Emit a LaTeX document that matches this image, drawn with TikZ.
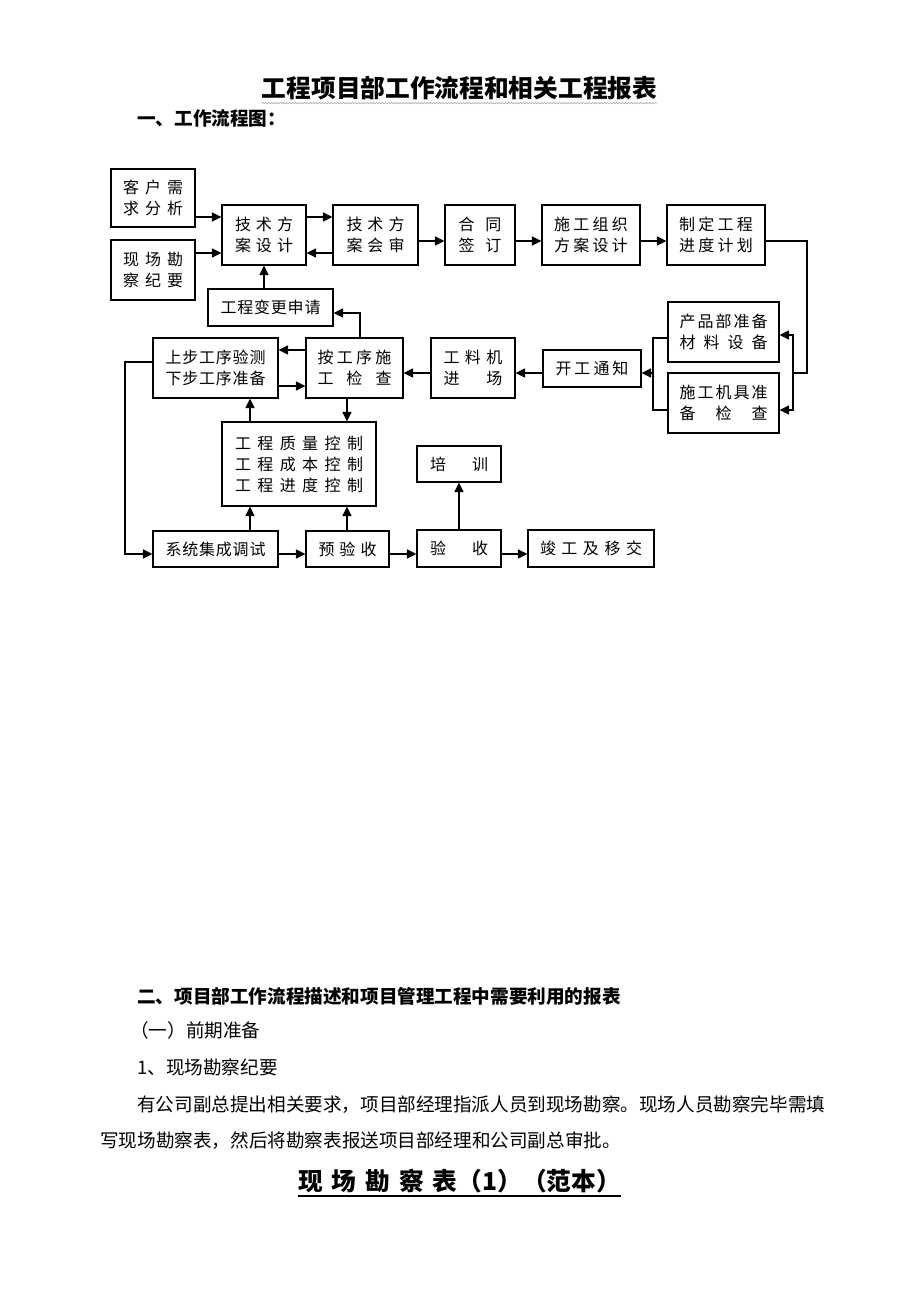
\documentclass[tikz,border=0pt]{standalone}
\usepackage{fontspec}
\setmainfont{Noto Sans CJK SC}
\usetikzlibrary{arrows.meta,decorations.pathmorphing}
\newcommand\myg[1]{\hspace*{#1pt}}
\begin{document}
\begin{tikzpicture}[x=1pt,y=-1pt,
 box/.style={draw=black,line width=1.1pt,rectangle,inner sep=0pt,align=center,font=\fontsize{16}{21}\selectfont},
 arr/.style={line width=1.5pt,-{Triangle[length=9.5pt,width=9pt]}},
 ln/.style={line width=1.5pt},
 txt/.style={inner sep=0pt,anchor=west,font=\fontsize{18.6}{20}\selectfont},
 btxt/.style={inner sep=0pt,anchor=west,font=\bfseries\fontsize{18.6}{20}\selectfont},
]
\fill[white] (0,0) rectangle (920,1302);
\useasboundingbox (0,0) rectangle (920,1302);

% headings
\node[inner sep=0pt,font=\bfseries\fontsize{24.7}{26}\selectfont] (title) at (459.5,88) {工程项目部工作流程和相关工程报表};
\draw[gray!70,line width=0.6pt,decorate,decoration={snake,amplitude=0.8pt,segment length=3pt}] ([yshift=-3pt]title.south west) -- ([yshift=-3pt]title.south east);
\node[btxt] (h1) at (137,118) {一、工作流程图：};

% boxes
\node[box,minimum width=84pt,minimum height=58pt] (kh) at (153,198) {客\myg6户\myg6需\\求\myg6分\myg6析};
\node[box,minimum width=84pt,minimum height=60pt] (xc) at (153,270) {现\myg6场\myg6勘\\察\myg6纪\myg6要};
\node[box,minimum width=84pt,minimum height=60pt] (jsj) at (264,235) {技\myg5术\myg5方\\案\myg5设\myg5计};
\node[box,minimum width=85pt,minimum height=60pt] (jsh) at (375.5,235) {技\myg5术\myg5方\\案\myg5会\myg5审};
\node[box,minimum width=70pt,minimum height=60pt] (ht) at (480,235) {合\myg{11}同\\签\myg{11}订};
\node[box,minimum width=98pt,minimum height=60pt] (sg) at (591,235) {施\myg{3.3}工\myg{3.3}组\myg{3.3}织\\方\myg{3.3}案\myg{3.3}设\myg{3.3}计};
\node[box,minimum width=98pt,minimum height=60pt] (zd) at (716,235) {制\myg{3.3}定\myg{3.3}工\myg{3.3}程\\进\myg{3.3}度\myg{3.3}计\myg{3.3}划};
\node[box,minimum width=125pt,minimum height=37pt] (bg) at (270.5,307.5) {工\myg{0.8}程\myg{0.8}变\myg{0.8}更\myg{0.8}申\myg{0.8}请};
\node[box,minimum width=111pt,minimum height=60pt] (cp) at (723.5,332) {产\myg2品\myg2部\myg2准\myg2备\\材\myg8料\myg8设\myg8备};
\node[box,minimum width=111pt,minimum height=60pt] (jj) at (723.5,403) {施\myg2工\myg2机\myg2具\myg2准\\备\myg{20}检\myg{20}查};
\node[box,minimum width=98pt,minimum height=37pt] (kg) at (592,368.5) {开\myg3工\myg3通\myg3知};
\node[box,minimum width=84pt,minimum height=60pt] (gl) at (473,368) {工\myg{5.5}料\myg{5.5}机\\进\myg{27}场};
\node[box,minimum width=97pt,minimum height=60pt] (aj) at (354.5,368) {按\myg{3.3}工\myg{3.3}序\myg{3.3}施\\工\myg{13}检\myg{13}查};
\node[box,minimum width=125pt,minimum height=60pt] (sb) at (215.5,368) {上\myg{0.8}步\myg{0.8}工\myg{0.8}序\myg{0.8}验\myg{0.8}测\\下\myg{0.8}步\myg{0.8}工\myg{0.8}序\myg{0.8}准\myg{0.8}备};
\node[box,minimum width=154pt,minimum height=84pt] (zl) at (299,464) {工\myg{6.4}程\myg{6.4}质\myg{6.4}量\myg{6.4}控\myg{6.4}制\\工\myg{6.4}程\myg{6.4}成\myg{6.4}本\myg{6.4}控\myg{6.4}制\\工\myg{6.4}程\myg{6.4}进\myg{6.4}度\myg{6.4}控\myg{6.4}制};
\node[box,minimum width=125pt,minimum height=36pt] (xt) at (215.5,549) {系\myg{0.8}统\myg{0.8}集\myg{0.8}成\myg{0.8}调\myg{0.8}试};
\node[box,minimum width=83pt,minimum height=36pt] (yy) at (347.5,549) {预\myg5验\myg5收};
\node[box,minimum width=84pt,minimum height=36pt] (px) at (459,464) {培\myg{26}训};
\node[box,minimum width=84pt,minimum height=37pt] (ys) at (459,548.5) {验\myg{26}收};
\node[box,minimum width=126pt,minimum height=37pt] (jg) at (591,548.5) {竣\myg{5.5}工\myg{5.5}及\myg{5.5}移\myg{5.5}交};

% helper coordinates
\coordinate (y217) at (0,217);
\coordinate (y253) at (0,253);
\coordinate (y241) at (0,241);
\coordinate (y335) at (0,335);
\coordinate (y338) at (0,338);
\coordinate (y410) at (0,410);
\coordinate (y350) at (0,350);
\coordinate (y386) at (0,386);
\coordinate (y554) at (0,554);
\coordinate (x250) at (250,0);
\coordinate (x347) at (347,0);
\coordinate (c1) at (807,373);
\coordinate (c2) at (793,373);
\coordinate (c3) at (653,373);
\coordinate (c4) at (360,313);
\coordinate (c5) at (125,362);

% connectors
\draw[arr] (kh.east |- y217) -- (jsj.west |- y217);
\draw[arr] (xc.east |- y253) -- (jsj.west |- y253);
\draw[arr] (jsj.east |- y217) -- (jsh.west |- y217);
\draw[arr] (jsh.west |- y253) -- (jsj.east |- y253);
\draw[arr] (jsj.south |- bg.north) -- (jsj.south);
\draw[arr] (jsh.east |- y241) -- (ht.west |- y241);
\draw[arr] (ht.east |- y241) -- (sg.west |- y241);
\draw[arr] (sg.east |- y241) -- (zd.west |- y241);
\draw[ln] (zd.east |- y241) -| (c1) -- (c2);
\draw[arr] (c2) |- (cp.east |- y335);
\draw[arr] (c2) |- (jj.east |- y410);
\draw[ln] (cp.west |- y338) -| (c3) |- (jj.west |- y410);
\draw[arr] (c3) -- (kg.east |- c3);
\draw[arr] (kg.west |- c3) -- (gl.east |- c3);
\draw[arr] (gl.west |- c3) -- (aj.east |- c3);
\draw[arr] (aj.west |- y350) -- (sb.east |- y350);
\draw[arr] (sb.east |- y386) -- (aj.west |- y386);
\draw[arr] (aj.north -| c4) |- (bg.east |- c4);
\draw[arr] (aj.south -| x347) -- (zl.north -| x347);
\draw[arr] (zl.north -| x250) -- (sb.south -| x250);
\draw[arr] (xt.north -| x250) -- (zl.south -| x250);
\draw[arr] (yy.north -| x347) -- (zl.south -| x347);
\draw[arr] (sb.west |- c5) -- (c5) |- (xt.west |- y554);
\draw[arr] (xt.east |- y554) -- (yy.west |- y554);
\draw[arr] (yy.east |- y554) -- (ys.west |- y554);
\draw[arr] (ys.east |- y554) -- (jg.west |- y554);
\draw[arr] (ys.north) -- (px.south);

% lower text
\node[btxt] (h2) at (137,996) {二、项目部工作流程描述和项目管理工程中需要利用的报表};
\node[txt] (h3) at (130,1030) {（一）前期准备};
\node[txt] (h4) at (137,1067) {1、现场勘察纪要};
\node[txt] (p1) at (137,1105) {有公司副总提出相关要求，项目部经理指派人员到现场勘察。现场人员勘察完毕需填};
\node[txt] (p2) at (100,1141) {写现场勘察表，然后将勘察表报送项目部经理和公司副总审批。};
\node[inner sep=0pt,anchor=west,font=\bfseries\fontsize{24.7}{26}\selectfont] (t2) at (298,1181) {现\myg9场\myg9勘\myg9察\myg9表（1）（范本）};
\draw[line width=1.5pt] ([yshift=-3pt]t2.south west) -- ([yshift=-3pt]t2.south east);
\end{tikzpicture}
\end{document}
